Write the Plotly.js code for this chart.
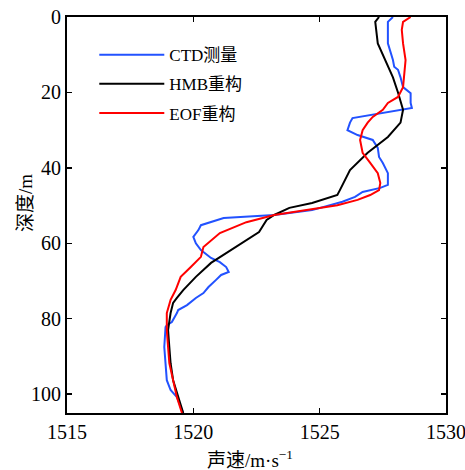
<!DOCTYPE html>
<html>
<head>
<meta charset="utf-8">
<script src="https://cdn.plot.ly/plotly-3.0.1.min.js"></script>
<style>html,body{margin:0;padding:0;background:#fff;}#chart{width:465px;height:470px;}</style>
</head>
<body>
<div id="chart"></div>
<script>
// CTD measured profile
const ctdDepth = [0, 1.3, 7, 11.4, 13.2, 14, 16, 18.6, 20.2, 22.8, 24.1, 26.8, 28, 30, 31.3, 32.6, 34.7, 37.1, 38.7, 41.4, 44.5, 45.3, 46.4, 47.7, 49, 51.2, 52.5, 53.3, 55.2, 56.5, 58.3, 60, 61.8, 63.9, 65, 66.3, 67.6, 68.4, 69.7, 71.6, 73.2, 74.5, 76.4, 77.7, 78.5, 80.9, 81.7, 82.2, 87.5, 91.8, 96.3, 98.9, 100.8, 105];
const ctdSpeed = [1527.9, 1527.7, 1527.7, 1527.9, 1527.95, 1528.1, 1528.2, 1528.3, 1528.6, 1528.6, 1528.65, 1526.3, 1526.2, 1526.1, 1526.5, 1527.1, 1527.3, 1527.35, 1527.5, 1527.7, 1527.7, 1527.4, 1526.7, 1526.4, 1525.9, 1524.7, 1523.2, 1521.2, 1520.3, 1520.2, 1520.0, 1520.1, 1520.3, 1520.7, 1521.05, 1521.3, 1521.4, 1521.1, 1520.9, 1520.6, 1520.4, 1520.1, 1519.75, 1519.4, 1519.35, 1519.15, 1518.95, 1518.9, 1518.85, 1518.9, 1518.95, 1519.1, 1519.35, 1519.6];

// HMB reconstruction
const hmbDepth = [0, 1.3, 7, 11.4, 16, 20, 24.6, 28, 31.8, 36, 40.6, 45.9, 47.2, 49.3, 50.6, 52.5, 53.8, 57, 61.8, 65.2, 68.9, 72.4, 74.5, 75.8, 78.5, 83, 87.5, 91.8, 96.3, 100.8, 105];
const hmbSpeed = [1527.35, 1527.2, 1527.3, 1527.6, 1527.9, 1528.1, 1528.3, 1528.2, 1527.7, 1526.9, 1526.2, 1525.8, 1525.7, 1524.7, 1523.8, 1523.2, 1522.9, 1522.6, 1521.5, 1520.7, 1520.1, 1519.6, 1519.35, 1519.2, 1519.1, 1519.0, 1519.05, 1519.1, 1519.2, 1519.4, 1519.6];

// EOF reconstruction
const eofDepth = [0, 1.3, 3.4, 7, 11.4, 16, 18.6, 21.2, 22, 22.8, 24.6, 26.5, 28, 30, 32.6, 36, 38.7, 41.4, 44, 45.9, 47.2, 48.5, 49.9, 51.2, 52.5, 54.4, 57.3, 61, 63.6, 66.3, 68.9, 72.4, 75, 78.5, 83, 87.5, 91.8, 96.3, 100.8, 105];
const eofSpeed = [1528.6, 1528.3, 1528.25, 1528.3, 1528.4, 1528.35, 1528.3, 1528.1, 1527.9, 1527.7, 1527.5, 1527.1, 1526.9, 1526.7, 1526.6, 1526.7, 1527.0, 1527.3, 1527.4, 1527.35, 1527.0, 1526.5, 1525.7, 1524.4, 1523.2, 1522.1, 1521.05, 1520.4, 1520.3, 1519.9, 1519.5, 1519.3, 1519.1, 1518.95, 1518.95, 1519.0, 1519.05, 1519.2, 1519.35, 1519.55];

const seriesNames = ['CTD测量', 'HMB重构', 'EOF重构'];
const xTicks = [1515, 1520, 1525, 1530];
const yTicks = [0, 20, 40, 60, 80, 100];
const xTitle = '声速/m·s<sup>−1</sup>';
const yTitle = '深度/m';

const FONT = '"Liberation Serif", "Noto Sans CJK SC", serif';

const traces = [
  {x: ctdSpeed, y: ctdDepth, name: seriesNames[0], legendgroup: 'g1', mode: 'lines', line: {color: '#2252ff', width: 2}},
  {x: hmbSpeed, y: hmbDepth, name: seriesNames[1], legendgroup: 'g2', mode: 'lines', line: {color: '#000000', width: 2}},
  {x: eofSpeed, y: eofDepth, name: seriesNames[2], legendgroup: 'g3', mode: 'lines', line: {color: '#ff0000', width: 2}}
];

const axisCommon = {
  showline: true, linecolor: '#000', linewidth: 2, mirror: 'ticks',
  ticks: 'inside', ticklen: 5, tickwidth: 1.5, tickcolor: '#000',
  showgrid: false, zeroline: false, ticklabeloverflow: 'allow',
  tickfont: {family: FONT, size: 20, color: '#000'}
};

const layout = {
  width: 465, height: 470,
  margin: {l: 67, r: 19, t: 17, b: 57},
  paper_bgcolor: '#fff', plot_bgcolor: '#fff',
  showlegend: true,
  legend: {
    x: 0.072, y: 0.949, xanchor: 'left', yanchor: 'top',
    bgcolor: 'rgba(0,0,0,0)', borderwidth: 0,
    font: {family: FONT, size: 17, color: '#000'},
    itemwidth: 65, tracegroupgap: 4
  },
  xaxis: Object.assign({}, axisCommon, {
    range: [1515, 1530], tickvals: xTicks, ticktext: xTicks.map(String)
  }),
  yaxis: Object.assign({}, axisCommon, {
    range: [105, 0], tickvals: yTicks, ticktext: yTicks.map(String)
  }),
  annotations: [
    {text: xTitle, xref: 'paper', yref: 'paper', x: 0.484, y: -0.116, xanchor: 'center', yanchor: 'middle',
     showarrow: false, font: {family: FONT, size: 19, color: '#000'}},
    {text: yTitle, xref: 'paper', yref: 'paper', x: -0.111, y: 0.53, xanchor: 'center', yanchor: 'middle',
     textangle: -90, showarrow: false, font: {family: FONT, size: 19, color: '#000'}}
  ]
};

Plotly.newPlot('chart', traces, layout, {displayModeBar: false, staticPlot: true});
</script>
</body>
</html>
